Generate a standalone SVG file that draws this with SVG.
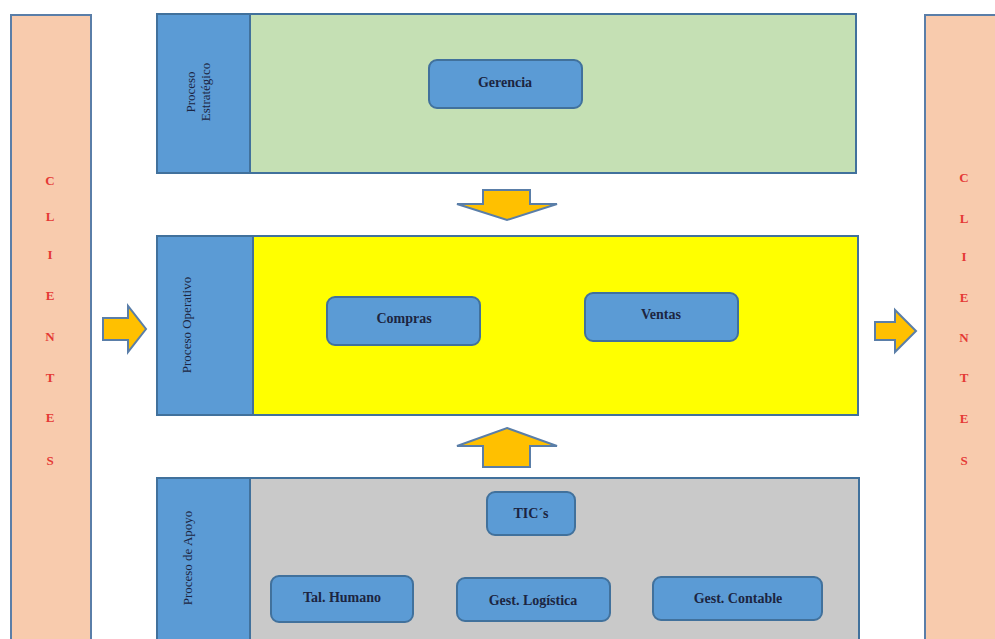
<svg xmlns="http://www.w3.org/2000/svg" width="995" height="639" viewBox="0 0 995 639">
<defs>
<style>
.cli{fill:#F8CBAD;stroke:#5A7EA8;stroke-width:2}
.strip{fill:#5B9BD5;stroke:#41719C;stroke-width:2}
.box{fill:#5B9BD5;stroke:#41719C;stroke-width:2}
.arr{fill:#FFC000;stroke:#5A7EA8;stroke-width:2;stroke-linejoin:miter}
.t{font-family:"Liberation Serif",serif;font-weight:bold;font-size:14px;fill:#1C2541;text-anchor:middle;dominant-baseline:central}
.v{font-family:"Liberation Serif",serif;font-size:13px;fill:#1C2541;text-anchor:middle;dominant-baseline:central}
.r{font-family:"Liberation Serif",serif;font-weight:bold;font-size:13px;fill:#E53935;text-anchor:middle;dominant-baseline:central}
</style>
</defs>
<rect width="995" height="639" fill="#ffffff"/>

<g id="clientes-left">
<rect class="cli" x="11" y="15" width="80" height="630"/>
<text class="r" x="50" y="180">C</text>
<text class="r" x="50" y="216">L</text>
<text class="r" x="50" y="254">I</text>
<text class="r" x="50" y="295">E</text>
<text class="r" x="50" y="336">N</text>
<text class="r" x="50" y="377">T</text>
<text class="r" x="50" y="417">E</text>
<text class="r" x="50" y="460">S</text>
</g>

<g id="clientes-right">
<rect class="cli" x="925" y="15" width="80" height="630"/>
<text class="r" x="964" y="177">C</text>
<text class="r" x="964" y="218">L</text>
<text class="r" x="964" y="256">I</text>
<text class="r" x="964" y="297">E</text>
<text class="r" x="964" y="337">N</text>
<text class="r" x="964" y="377">T</text>
<text class="r" x="964" y="418">E</text>
<text class="r" x="964" y="460">S</text>
</g>

<g id="proceso-estrategico">
<rect x="157" y="14" width="699" height="159" fill="#C5E0B4" stroke="#41719C" stroke-width="2"/>
<rect class="strip" x="157" y="14" width="93" height="159"/>
<text class="v" transform="translate(197,92) rotate(-90)"><tspan x="0" dy="-7">Proceso</tspan><tspan x="0" dy="15">Estratégico</tspan></text>
</g>

<g id="gerencia">
<rect class="box" x="429" y="60" width="153" height="48" rx="8"/>
<text class="t" x="505" y="82">Gerencia</text>
</g>

<g id="proceso-operativo">
<rect x="157" y="236" width="701" height="179" fill="#FFFF00" stroke="#41719C" stroke-width="2"/>
<rect class="strip" x="157" y="236" width="96" height="179"/>
<text class="v" transform="translate(186,325) rotate(-90)">Proceso Operativo</text>
</g>

<g id="compras">
<rect class="box" x="327" y="297" width="153" height="48" rx="8"/>
<text class="t" x="404" y="318">Compras</text>
</g>

<g id="ventas">
<rect class="box" x="585" y="293" width="153" height="48" rx="8"/>
<text class="t" x="661" y="314">Ventas</text>
</g>

<g id="proceso-apoyo">
<rect x="157" y="478" width="702" height="170" fill="#C9C9C9" stroke="#41719C" stroke-width="2"/>
<rect class="strip" x="157" y="478" width="93" height="170"/>
<text class="v" transform="translate(187,558) rotate(-90)">Proceso de Apoyo</text>
</g>

<g id="tics">
<rect class="box" x="487" y="492" width="88" height="43" rx="8"/>
<text class="t" x="531" y="513">TIC´s</text>
</g>

<g id="tal-humano">
<rect class="box" x="271" y="576" width="142" height="46" rx="8"/>
<text class="t" x="342" y="597">Tal. Humano</text>
</g>

<g id="gest-logistica">
<rect class="box" x="457" y="578" width="153" height="43" rx="8"/>
<text class="t" x="533" y="600">Gest. Logística</text>
</g>

<g id="gest-contable">
<rect class="box" x="653" y="577" width="169" height="43" rx="8"/>
<text class="t" x="738" y="598">Gest. Contable</text>
</g>

<g id="connectors">
<polygon class="arr" points="483,190 530,190 530,204 557,204 507,220 457,204 483,204"/>
<polygon class="arr" points="507,428 557,446 530,446 530,467 483,467 483,446 457,446"/>
<polygon class="arr" points="103,318 128,318 128,306 146,329 128,352 128,340 103,340"/>
<polygon class="arr" points="875,322 895,322 895,310 916,331 895,352 895,340 875,340"/>
</g>
</svg>
